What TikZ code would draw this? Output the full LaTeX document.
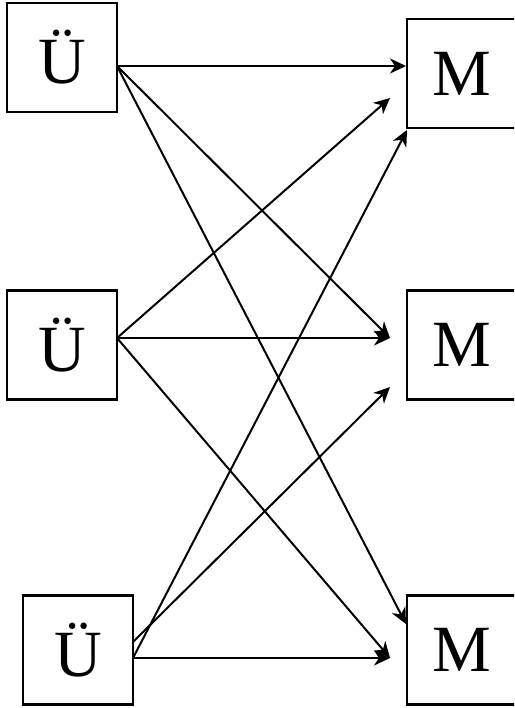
\documentclass[tikz,border=0pt]{standalone}
\usepackage{fontspec}
\setmainfont{Liberation Serif}
\usetikzlibrary{arrows.meta}
\begin{document}
\begin{tikzpicture}[x=1pt,y=-1pt,
  box/.style={draw,line width=2.2pt,minimum width=110pt,minimum height=109pt,inner sep=0pt,
    font=\fontsize{66}{78}\selectfont},
  conn/.style={line width=2pt,-{Stealth[length=16pt,width=15pt,inset=5pt]}}]
\useasboundingbox (0,0) rectangle (514,708);
\clip (0,0) rectangle (514,708);
\node[box] (u1) at (62,57.5) {Ü};
\node[box] (u2) at (62,345) {Ü};
\node[box] (u3) at (78,650) {Ü};
\node[box] (m1) at (462,73.5) {M};
\node[box] (m2) at (462,345) {M};
\node[box] (m3) at (462,650) {M};
\coordinate (s1) at (117,66);
\coordinate (s2) at (117,338);
\coordinate (s3a) at (133,642);
\coordinate (s3b) at (133,658);
\coordinate (e11) at (406,66);
\coordinate (e12) at (390,338);
\coordinate (e13) at (406,624);
\coordinate (e21) at (390,98);
\coordinate (e23) at (390,658);
\coordinate (e32) at (390,387);
\coordinate (e31) at (407,130);
\draw[conn] (s1) -- (e11);
\draw[conn] (s1) -- (e12);
\draw[conn] (s1) -- (e13);
\draw[conn] (s2) -- (e21);
\draw[conn] (s2) -- (e12);
\draw[conn] (s2) -- (e23);
\draw[conn] (s3a) -- (e32);
\draw[conn] (s3b) -- (e31);
\draw[conn] (s3b) -- (e23);
\end{tikzpicture}
\end{document}
